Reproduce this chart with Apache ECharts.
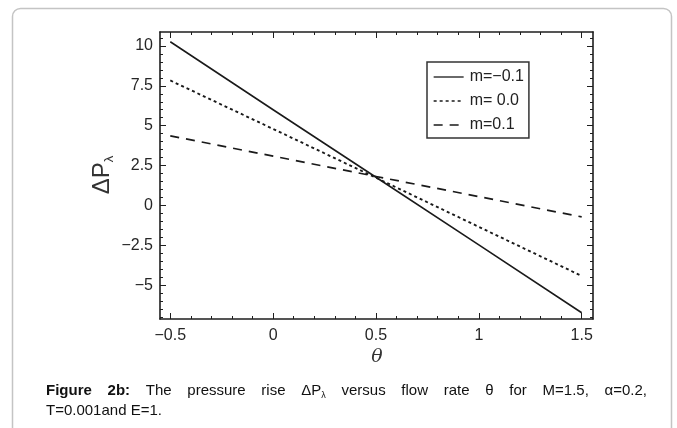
<!DOCTYPE html>
<html><head><meta charset="utf-8">
<script src="https://cdn.jsdelivr.net/npm/echarts@6/dist/echarts.min.js"></script>
<style>html,body{margin:0;padding:0;background:#fff}#c{width:677px;height:428px}</style>
</head><body><div id="c"></div>
<script>
// ---- data ----
const theta = [-0.5, 0, 0.5, 1, 1.5];
const mNeg01 = [10.25, 6.0, 1.78, -2.45, -6.69];
const m00 = [7.83, 4.8, 1.75, -1.32, -4.39];
const m01 = [4.37, 3.1, 1.83, 0.57, -0.7];
const seriesNames = ['m=\u22120.1', 'm= 0.0', 'm=0.1'];
const xMajorTicks = [-0.5, 0, 0.5, 1, 1.5];
const yMajorTicks = [-5, -2.5, 0, 2.5, 5, 7.5, 10];
const xMinorTicks = [-0.4,-0.3,-0.2,-0.1,0.1,0.2,0.3,0.4,0.6,0.7,0.8,0.9,1.1,1.2,1.3,1.4];
const yMinorTicks = [-7,-6.5,-6,-5.5,-4.5,-4,-3.5,-3,-2,-1.5,-1,-0.5,0.5,1,1.5,2,3,3.5,4,4.5,5.5,6,6.5,7,8,8.5,9,9.5,10.5];
const captionLine1 = ['Figure', '2b:', 'The', 'pressure', 'rise', '\u0394P_\u03bb', 'versus', 'flow', 'rate', '\u03b8', 'for', 'M=1.5,', '\u03b1=0.2,'];
const captionLine2 = 'T=0.001and E=1.';

// ---- layout ----
const X_MIN = -0.55, X_MAX = 1.555, Y_MIN = -7.08, Y_MAX = 10.86;
const FONT = '"Liberation Sans", Arial, sans-serif';
const AX = '#1e1e1e';
const fmt = v => (v < 0 ? '\u2212' : '') + String(Math.abs(v));

function xAx(pos, ticks, len, showLine, showLabel) {
  return {
    type: 'value', position: pos, min: X_MIN, max: X_MAX,
    axisLine: { show: showLine, onZero: false, lineStyle: { color: AX, width: 1.6 } },
    axisTick: { show: true, inside: true, length: len, customValues: ticks, lineStyle: { color: AX, width: 1 } },
    axisLabel: showLabel ? { show: true, customValues: ticks, formatter: fmt, color: '#262626', fontSize: 16, fontFamily: FONT, margin: 9 } : { show: false },
    splitLine: { show: false }
  };
}
function yAx(pos, ticks, len, showLine, showLabel) {
  return {
    type: 'value', position: pos, min: Y_MIN, max: Y_MAX,
    axisLine: { show: showLine, onZero: false, lineStyle: { color: AX, width: 1.6 } },
    axisTick: { show: true, inside: true, length: len, customValues: ticks, lineStyle: { color: AX, width: 1 } },
    axisLabel: showLabel ? { show: true, customValues: ticks, formatter: fmt, color: '#262626', fontSize: 16, fontFamily: FONT, margin: 7 } : { show: false },
    splitLine: { show: false }
  };
}

// caption justified layout
const ctx = document.createElement('canvas').getContext('2d');
function measure(t, size, bold) { ctx.font = (bold ? 'bold ' : '') + size + 'px ' + FONT; return ctx.measureText(t).width; }
const CAP_L = 46, CAP_R = 647, CAP_Y1 = 391, CAP_Y2 = 411, CAP_FS = 15;
const capGraphics = [];
(function () {
  const widths = captionLine1.map((w, i) => {
    const bold = i < 2;
    if (w.indexOf('_') >= 0) { const p = w.split('_'); return measure(p[0], CAP_FS, false) + measure(p[1], 9, false); }
    return measure(w, CAP_FS, bold);
  });
  const total = widths.reduce((a, b) => a + b, 0);
  const gap = (CAP_R - CAP_L - total) / (captionLine1.length - 1);
  let x = CAP_L;
  captionLine1.forEach((w, i) => {
    const bold = i < 2;
    let style;
    if (w.indexOf('_') >= 0) {
      const p = w.split('_');
      style = { text: '{a|' + p[0] + '}{s|' + p[1] + '}', rich: {
        a: { fontSize: CAP_FS, fontFamily: FONT, fill: '#111', lineHeight: 18, verticalAlign: 'middle' },
        s: { fontSize: 9, fontFamily: FONT, fill: '#111', lineHeight: 8, verticalAlign: 'bottom' } },
        x: 0, y: 0, textVerticalAlign: 'middle', textAlign: 'left' };
    } else {
      style = { text: w, fontSize: CAP_FS, fontFamily: FONT, fontWeight: bold ? 'bold' : 'normal', fill: '#111', textVerticalAlign: 'middle', textAlign: 'left' };
    }
    capGraphics.push({ type: 'text', x: x, y: CAP_Y1, style: style, silent: true });
    x += widths[i] + gap;
  });
  capGraphics.push({ type: 'text', x: CAP_L, y: CAP_Y2, style: { text: captionLine2, fontSize: CAP_FS, fontFamily: FONT, fill: '#111', textVerticalAlign: 'middle', textAlign: 'left' }, silent: true });
})();

const mk = (name, vals, type, w) => ({
  name: name, type: 'line', xAxisIndex: 0, yAxisIndex: 0,
  data: theta.map((t, i) => [t, vals[i]]),
  symbol: 'none', smooth: false, silent: true,
  itemStyle: { color: '#1a1a1a' },
  lineStyle: { color: '#1a1a1a', width: w, type: type }
});

const chart = echarts.init(document.getElementById('c'), null, { renderer: 'canvas' });
chart.setOption({
  backgroundColor: '#fff',
  animation: false,
  grid: { left: 160, top: 32, right: 84, bottom: 109, outerBoundsMode: 'none', containLabel: false },
  xAxis: [
    xAx('bottom', xMajorTicks, 6, true, true),
    xAx('bottom', xMinorTicks, 3, false, false),
    xAx('top', xMajorTicks, 6, true, false),
    xAx('top', xMinorTicks, 3, false, false)
  ],
  yAxis: [
    yAx('left', yMajorTicks, 6, true, true),
    yAx('left', yMinorTicks, 3, false, false),
    yAx('right', yMajorTicks, 6, true, false),
    yAx('right', yMinorTicks, 3, false, false)
  ],
  legend: {
    left: 427, top: 62, orient: 'vertical',
    padding: [7, 5, 5, 6], itemGap: 8, itemWidth: 30, itemHeight: 14,
    borderColor: '#333', borderWidth: 1.5, backgroundColor: '#fff',
    data: seriesNames,
    itemStyle: { opacity: 0 },
    lineStyle: { width: 1.3 },
    textStyle: { fontSize: 16, fontFamily: FONT, color: '#222', lineHeight: 16, padding: [0, 0, 0, 1] }
  },
  series: [
    mk(seriesNames[0], mNeg01, 'solid', 1.6),
    mk(seriesNames[1], m00, [3, 3], 1.9),
    mk(seriesNames[2], m01, [9, 7], 1.7)
  ],
  graphic: [
    { type: 'rect', shape: { x: 12.5, y: 8.5, width: 659, height: 460, r: 8 }, style: { fill: 'none', stroke: '#c4c4c4', lineWidth: 1.5 }, silent: true, z: -10 },
    { type: 'text', x: 377, y: 357, style: { text: '\u03b8', fontSize: 19, fontStyle: 'italic', fontFamily: '"DejaVu Serif", "Liberation Serif", serif', fill: '#333', textAlign: 'center', textVerticalAlign: 'middle' }, silent: true },
    { type: 'text', x: 102, y: 175, rotation: Math.PI / 2,
      style: { text: '{a|\u0394P}{s|\u03bb}', rich: {
        a: { fontSize: 24, fontFamily: FONT, fill: '#333', lineHeight: 28, verticalAlign: 'middle' },
        s: { fontSize: 13, fontFamily: FONT, fill: '#333', lineHeight: 10, verticalAlign: 'bottom' } },
        textAlign: 'center', textVerticalAlign: 'middle' }, silent: true }
  ].concat(capGraphics)
});
</script></body></html>
